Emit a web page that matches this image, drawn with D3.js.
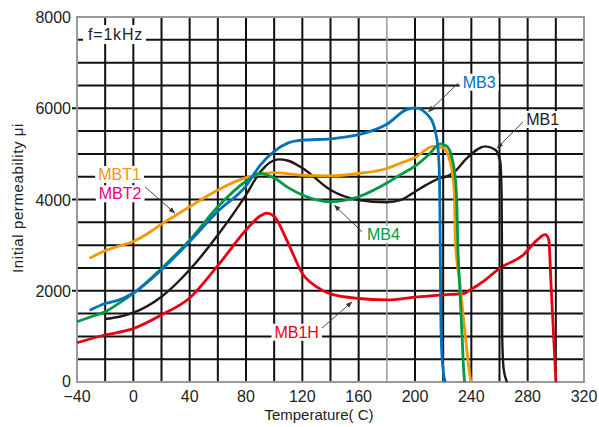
<!DOCTYPE html>
<html>
<head>
<meta charset="utf-8">
<script src="https://cdn.jsdelivr.net/npm/d3@7"></script>
<style>
  body { margin: 0; background: #fff; }
  text { font-family: "Liberation Sans", Arial, Helvetica, sans-serif; }
</style>
</head>
<body>
<div id="chart"></div>
<script>
// temperature (C) vs initial permeability
const mb3 = [[-31,1570],[-20,1720],[-10,1800],[0,1950],[20,2460],[40,3080],[60,3740],[80,4300],[90,4750],[100,5055],[110,5240],[120,5300],[140,5330],[160,5420],[180,5650],[194,5970],[200,6010],[210.8,5790],[214.4,5495],[216.3,5130],[217.4,4470],[217.9,3114],[218.2,1760],[218.8,810],[219.9,295],[221.5,0]];
const mbt1 = [[-31,2710],[-20,2880],[-10,2980],[0,3080],[10,3250],[20,3460],[30,3650],[40,3840],[60,4210],[80,4480],[90,4550],[100,4590],[120,4530],[140,4520],[160,4570],[180,4680],[190,4800],[200,4920],[213,5165],[220,5130],[224.6,4870],[227,4470],[228,4100],[228.6,3110],[232,2125],[235.7,1030],[238,370],[239.7,0]];
const mb4 = [[-40,1320],[-30,1430],[-20,1540],[-10,1730],[0,1940],[20,2490],[40,3110],[60,3840],[80,4400],[90,4570],[100,4470],[110,4260],[120,4100],[140,3950],[160,4060],[180,4360],[190,4550],[200,4730],[210,4990],[218,5220],[222.7,5165],[226.2,4910],[228.6,4470],[229.8,3810],[230.3,3114],[231.7,2125],[233.4,1030],[234.5,300],[235.2,0]];
const mb1 = [[-20,1380],[-10,1430],[0,1520],[20,1870],[40,2460],[60,3220],[80,4100],[90,4600],[103,4880],[110,4850],[120,4690],[140,4210],[160,3990],[180,3940],[190,3990],[200,4170],[208,4320],[218,4470],[222,4500],[227,4580],[237,4910],[250,5165],[257,5090],[260.5,4840],[261.5,4100],[261.7,3100],[261.9,1030],[262.9,300],[265.4,0]];
const mb1h = [[-40,860],[-20,1030],[0,1170],[20,1470],[40,1840],[60,2550],[80,3330],[90,3640],[95,3700],[100,3630],[110,3040],[120,2380],[130,2090],[140,1930],[160,1830],[180,1800],[200,1860],[220,1910],[234.5,1940],[239,2015],[250,2240],[260,2490],[277,2790],[286.6,3110],[292.5,3230],[295,3120],[296.6,2125],[298.4,1030],[300.1,0]];

const xTicks = [-40, 0, 40, 80, 120, 160, 200, 240, 280, 320];
const yTicks = [0, 2000, 4000, 6000, 8000];

const width = 599, height = 427;
const x = d3.scaleLinear().domain([-40, 320]).range([77, 584]);
const y = d3.scaleLinear().domain([0, 8000]).range([382, 17]);

const colors = { mb3: '#0071bc', mbt1: '#f39800', mb4: '#009a44', mb1: '#231815', mb1h: '#e60012', mbt2: '#e5007f' };
const gray = '#9a9a9a';

const svg = d3.select('#chart').append('svg')
    .attr('width', width).attr('height', height);

svg.append('defs').append('marker')
    .attr('id', 'arr').attr('viewBox', '0 0 10 10')
    .attr('refX', 10).attr('refY', 5)
    .attr('markerWidth', 7).attr('markerHeight', 7)
    .attr('orient', 'auto')
    .append('path').attr('d', 'M0,1 L10,5 L0,9 Z').attr('fill', '#333');

// grid
const g_grid = svg.append('g');
g_grid.selectAll('.hl').data(d3.range(500, 8000, 500)).enter()
    .append('line')
    .attr('x1', d => (d % 2000 == 0) ? x(-40) - 5 : x(-40)).attr('x2', x(320))
    .attr('y1', d => y(d)).attr('y2', d => y(d))
    .attr('stroke', '#111').attr('stroke-width', 2);
g_grid.selectAll('.vl').data(d3.range(-20, 320, 20)).enter()
    .append('line')
    .attr('x1', d => x(d)).attr('x2', d => x(d))
    .attr('y1', y(0)).attr('y2', y(8000))
    .attr('stroke', d => d == 180 ? gray : '#111')
    .attr('stroke-width', d => d == 180 ? 1.5 : 2);
// frame
g_grid.append('rect')
    .attr('x', x(-40)).attr('y', y(8000))
    .attr('width', x(320) - x(-40)).attr('height', y(0) - y(8000))
    .attr('fill', 'none').attr('stroke', gray).attr('stroke-width', 2);

// tick labels
svg.append('g').selectAll('text').data(xTicks).enter()
    .append('text')
    .attr('x', d => x(d)).attr('y', 402)
    .attr('text-anchor', 'middle').attr('font-size', 16).attr('fill', '#222')
    .text(d => d < 0 ? '\u2212' + Math.abs(d) : d);
svg.append('g').selectAll('text').data(yTicks).enter()
    .append('text')
    .attr('x', 71).attr('y', d => d == 0 ? y(d) + 5 : y(d) + 6)
    .attr('text-anchor', 'end').attr('font-size', 16).attr('fill', '#222')
    .text(d => d);

// axis titles
svg.append('text')
    .attr('x', 319).attr('y', 420)
    .attr('text-anchor', 'middle').attr('font-size', 15).attr('fill', '#222')
    .text('Temperature( C)');
svg.append('text')
    .attr('transform', 'translate(23,198) rotate(-90)')
    .attr('text-anchor', 'middle').attr('font-size', 15).attr('fill', '#222')
    .attr('letter-spacing', 0.6)
    .text('Initial permeability \u03bci');

// curves
const line = d3.line().x(d => x(d[0])).y(d => y(d[1])).curve(d3.curveMonotoneX);
const series = [
    { data: mb1h, col: colors.mb1h, w: 2.8 },
    { data: mb1, col: colors.mb1, w: 2.4 },
    { data: mbt1, col: colors.mbt1, w: 2.8 },
    { data: mb4, col: colors.mb4, w: 2.8 },
    { data: mb3, col: colors.mb3, w: 2.8 }
];
svg.append('g').selectAll('path').data(series).enter()
    .append('path')
    .attr('d', d => line(d.data))
    .attr('fill', 'none')
    .attr('stroke', d => d.col)
    .attr('stroke-width', d => d.w)
    .attr('stroke-linejoin', 'round');

// labels with leaders (positions in data units)
const notes = [
    { t: 'MB3', col: colors.mb3, at: [245.6, 6582], from: [230.7, 6553], tip: [209.4, 5918] },
    { t: 'MB1', col: colors.mb1, at: [290.7, 5764], from: [276.9, 5710], tip: [258.2, 5122] },
    { t: 'MB4', col: colors.mb4, at: [177.6, 3244], from: [162.5, 3288], tip: [142.6, 3879] },
    { t: 'MB1H', col: colors.mb1h, at: [116, 1102], from: [134, 1184], tip: [155.4, 1760] },
    { t: 'MBT1', col: colors.mbt1, at: [-9.8, 4559], from: [8.3, 4280], tip: [29.6, 3697] },
    { t: 'MBT2', col: colors.mbt2, at: [-9.4, 4136] }
];

const g_lead = svg.append('g');
notes.filter(d => d.tip).forEach(d => {
    g_lead.append('line')
        .attr('x1', x(d.from[0])).attr('y1', y(d.from[1]))
        .attr('x2', x(d.tip[0])).attr('y2', y(d.tip[1]))
        .attr('stroke', '#333').attr('stroke-width', 0.9)
        .attr('marker-end', 'url(#arr)');
});
const g_box = svg.append('g'), g_txt = svg.append('g');
notes.forEach(d => {
    let tx = g_txt.append('text')
        .attr('x', x(d.at[0])).attr('y', y(d.at[1]) + 6)
        .attr('text-anchor', 'middle').attr('font-size', 16)
        .attr('fill', d.col).text(d.t);
    let b = tx.node().getBBox();
    g_box.append('rect')
        .attr('x', b.x - 3).attr('y', b.y)
        .attr('width', b.width + 6).attr('height', b.height)
        .attr('fill', '#fff');
});

// frequency note
const g_f = svg.append('g');
let fr = g_f.append('rect');
let fk = g_f.append('text')
    .attr('x', 88).attr('y', 40)
    .attr('font-size', 16).attr('letter-spacing', 0.8).attr('fill', '#222')
    .text('f=1kHz');
let fb = fk.node().getBBox();
fr.attr('x', fb.x - 5).attr('y', fb.y - 1)
    .attr('width', fb.width + 8).attr('height', fb.height + 2)
    .attr('fill', '#fff');
</script>
</body>
</html>
